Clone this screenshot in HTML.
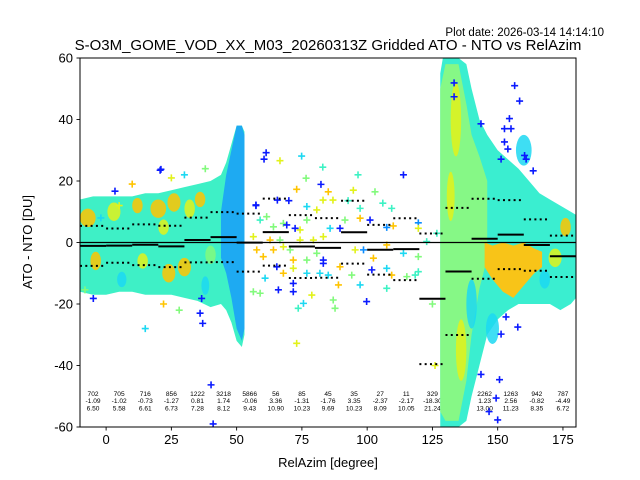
<!DOCTYPE html>
<html><head><meta charset="utf-8"><style>
body{margin:0;background:#fff}
svg{display:block;font-family:"Liberation Sans","DejaVu Sans",sans-serif}
</style></head><body>
<svg id="chart" width="640" height="480" viewBox="0 0 640 480" xmlns="http://www.w3.org/2000/svg">
<defs><clipPath id="plotclip"><rect x="80" y="58" width="496" height="369"/></clipPath></defs>
<rect x="0" y="0" width="640" height="480" fill="#fff"/>
<text x="604" y="36" font-size="11.5" text-anchor="end">Plot date: 2026-03-14 14:14:10</text>
<text x="328" y="50" font-size="15" text-anchor="middle">S-O3M_GOME_VOD_XX_M03_20260313Z Gridded ATO - NTO vs RelAzim</text>
<g id="stats"></g>
<g id="plot" clip-path="url(#plotclip)"></g>
<g id="axes"></g>
<text x="328" y="467" font-size="13" text-anchor="middle">RelAzim [degree]</text>
<text transform="translate(32,242) rotate(-90)" font-size="13" text-anchor="middle">ATO - NTO [DU]</text>
</svg>
<script>
const binCenters=[-5,5,15,25,35,45,55,65,75,85,95,105,115,125,135,145,155,165,175];
const binCounts=["702","705","716","856","1222","3218","5866","56","85","45","35","27","11","329","7713","2262","1263","942","787"];
const binMeans=[-1.09,-1.02,-0.73,-1.27,0.81,1.74,-0.06,3.36,-1.31,-1.76,3.35,-2.37,-2.17,-18.30,-9.42,1.23,2.56,-0.82,-4.49];
const binStds=[6.50,5.58,6.61,6.73,7.28,8.12,9.43,10.90,10.23,9.69,10.23,8.09,10.05,21.24,20.67,13.00,11.23,8.35,6.72];
const xTicks=[0,25,50,75,100,125,150,175];
const yTicks=[-60,-40,-20,0,20,40,60];
const leftCloudX=[-10,-5,0,5,10,15,20,25,30,35,40,44,46,48,50,52,53];
const leftCloudUp=[14,15,15,15,15,16,16,17,18,19,20,22,26,32,38,38,36];
const leftCloudLo=[-16,-17,-17,-16,-16,-17,-17,-17,-18,-19,-21,-20,-22,-26,-32,-34,-30];
const streakX=[44,46,48,50,52,53];
const streakUp=[10,22,30,38,38,35];
const streakLo=[-5,-10,-18,-28,-32,-28];
const rightCloudX=[128,129,132,135,138,140,143,146,150,154,158,162,166,170,174,178,180];
const rightCloudUp=[55,60,60,60,58,50,40,35,30,27,24,20,16,14,12,10,9];
const rightCloudLo=[-60,-60,-60,-60,-58,-50,-40,-30,-25,-22,-20,-20,-20,-20,-22,-20,-18];
const greenX=[128,130,135,138,140,143,146];
const greenUp=[50,58,58,45,35,28,20];
const greenLo=[-55,-58,-58,-45,-30,-15,-5];
const orangeX=[145,148,152,156,160,164,167];
const orangeUp=[0,-1,0,-1,0,-2,-3];
const orangeLo=[-8,-12,-16,-18,-14,-10,-8];
// blob patches inside clouds: centre x, centre y, half-width (deg), half-height (DU), colour index
const blobX=[-7,3,12,20,26,32,36,24,14,-4,6,30,38,22,40,134,136,132,140,148,172,176,168,160];
const blobY=[8,10,12,11,13,11,14,-10,-6,-6,-12,-8,-14,5,-4,40,-35,15,-20,-28,-5,5,-12,30];
const blobW=[3,2.5,2,3,2.5,2,2,2.5,2,2,1.8,2.5,1.5,2,2,2,2,1.5,2,2.5,2.5,2,2,3];
const blobH=[3,3,2.5,3,3,3,2.5,3,2.5,3,2.5,3,3,2.5,3,12,10,8,8,5,3,3,3,5];
const blobC=[6,5,6,6,6,5,6,6,5,6,2,6,2,5,4,5,5,5,2,2,5,6,2,2];
const ptX=[61.3,60.5,66.6,74.9,83,113.9,96.5,76.6,82.3,85.1,73,103,94.7,83.1,86.9,92.7,106,109.4,57.4,65.6,70,76.9,80.7,97.3,101.1,119.6,119.6,107.5,110,89.6,97.3,85.8,91.5,126.7,122.8,95.4,98.6,107.5,113.9,119.6,102.4,101.8,107.5,109.4,115.2,118.4,119.6,97.3,107.5,99.8,89,94.1,83.2,85.1,89.6,87,87.7,75.6,73.6,78.8,71.7,66,71.7,59,56.4,73,60.9,65.4,67.9,71.7,76.9,81.9,80.7,83.2,76.9,71.7,67.9,62.8,64.1,67.9,74.3,79.4,83.2,76.9,72.4,69.2,59,61.5,57.7,60.2,56.4,64.1,70.5,66.6,74.3,156.5,158.4,154.5,152.6,155.1,152.6,153.9,160.3,160.9,151.3,163.6,143.6,133.3,133.3,153.2,157.7,151.3,143.6,150.7,149.4,150,146.7,40.2,41,20.7,21,3.4,57.4,36.6,36,37,-4.9,-8.1,15,25,10,30,22,5,-2,38,28,126,125,127,125.5];
const ptY=[29.2,27.1,26.6,28.1,24.5,22,22,20.9,18.9,16.5,17.3,16.5,17,13.8,13.8,13.6,12.8,11.1,12.2,13.8,13.6,11.7,10.6,11.1,7.3,6.4,4.6,4.9,5.4,4.6,7.9,4.6,7.3,3,0.3,-2.4,-2.4,-0.8,-3.5,-4.6,-5.1,-8.9,-8.4,-10.6,-11.1,-10.6,-9.5,-13.8,-14.9,-19.2,-13.8,-10.6,-6.8,-10.6,-7.9,-18.7,-21.4,-19.8,-21.4,-17.1,-16,-15.4,-13.3,-16.5,-16,-32.8,-11.6,-7.9,-10,-8.4,-10,-10,-3.5,-5.7,-5.7,-5.7,-1.4,0.8,5.1,6.2,4.1,0.8,1.9,7.3,4.6,5.7,7.3,8.4,-2.4,-4.6,1.9,-2.4,-2.4,0.8,0.8,51,46,40.3,37,37,32.7,30.4,28.3,27.1,27.1,23.3,38.6,51.9,47.4,-24.2,-27.5,-29.8,-42.9,-44.6,-50.6,-57.7,-55,-46.3,-59,23.5,23.8,16.7,12,-18.2,-23,-26.3,-18.2,-15.4,-28,21,19,22,-20,12,8,24,-22,-40,-20,-30,-12];
const ptC=[0,0,5,2,3,0,3,4,0,6,6,4,5,5,5,3,3,3,0,0,0,2,5,3,0,1,5,1,6,0,6,2,4,3,3,5,1,6,2,4,6,0,2,6,4,3,3,2,3,0,6,4,0,2,6,4,4,2,3,5,0,0,0,4,4,5,2,0,6,5,2,2,4,0,4,6,5,6,4,4,5,5,5,4,0,0,3,4,6,6,5,6,4,4,5,0,0,0,0,0,0,0,0,0,0,0,0,0,0,0,0,0,0,0,0,0,0,0,0,0,0,0,0,0,0,0,0,4,2,5,6,2,6,5,2,4,4,5,4];
const palette=["#0a1aff","#0a8cff","#1cd8f2","#3df2c4","#82fa7c","#e2f21a","#ffc400"];

const NS="http://www.w3.org/2000/svg";
const X=v=>80+(v+10)*496/190;
const Y=v=>58+(60-v)*369/120;
function mk(tag,attrs,parent){const e=document.createElementNS(NS,tag);for(const k in attrs)e.setAttribute(k,attrs[k]);parent.appendChild(e);return e;}
const plot=document.getElementById('plot'),axes=document.getElementById('axes'),stats=document.getElementById('stats');

function band(xs,up,lo,fill,name){
  let pts=xs.map((x,i)=>X(x)+','+Y(up[i]));
  for(let i=xs.length-1;i>=0;i--)pts.push(X(xs[i])+','+Y(lo[i]));
  const p=mk('polygon',{points:pts.join(' '),fill:fill},plot);
  
  
}
binCenters.forEach((c,i)=>{
  const g=mk('g',{},stats);
  
  
  [binCounts[i],binMeans[i].toFixed(2),binStds[i].toFixed(2)].forEach((t,j)=>{
    const e=mk('text',{x:X(c),y:396+j*7.2,'font-size':6.6,'text-anchor':'middle'},g);e.textContent=t;
  });
});
band(leftCloudX,leftCloudUp,leftCloudLo,"#3ef0c6","left-cloud");
band(streakX,streakUp,streakLo,"#1eaaf2","azimuth-50-streak");
band(rightCloudX,rightCloudUp,rightCloudLo,"#3aeed0","right-cloud");
band(greenX,greenUp,greenLo,"#86f886","right-cloud-core");
band(orangeX,orangeUp,orangeLo,"#f8c418","right-cloud-orange");
blobX.forEach((x,i)=>{
  const cx=X(x),cy=Y(blobY[i]);
  const e=mk('ellipse',{cx:cx,cy:cy,rx:blobW[i]*496/190,ry:blobH[i]*369/120,fill:palette[blobC[i]],opacity:0.85},plot);
  
  
});
ptX.forEach((x,i)=>{
  const px=X(x),py=Y(ptY[i]);
  const p=mk('path',{d:`M${px-3.5},${py}H${px+3.5}M${px},${py-3.5}V${py+3.5}`,stroke:palette[ptC[i]],'stroke-width':1.6,fill:'none'},plot);
  
  
});
const z=mk('line',{x1:80,x2:576,y1:Y(0),y2:Y(0),stroke:'#000','stroke-width':1.3},plot);


binCenters.forEach((c,i)=>{
  const x1=X(c-5),x2=X(c+5);
  const m=mk('line',{x1:x1,x2:x2,y1:Y(binMeans[i]),y2:Y(binMeans[i]),stroke:'#000','stroke-width':2},plot);
  
  
  [binMeans[i]+binStds[i],binMeans[i]-binStds[i]].forEach(v=>{
    const s=mk('line',{x1:x1,x2:x2,y1:Y(v),y2:Y(v),stroke:'#000','stroke-width':2,'stroke-dasharray':'2,3.3'},plot);
    
    
  });
});
const fr=mk('rect',{x:80,y:58,width:496,height:369,fill:'none',stroke:'#000','stroke-width':1},axes);


xTicks.forEach(t=>{
  const g=mk('g',{},axes);
  
  
  mk('line',{x1:X(t),x2:X(t),y1:427,y2:430.5,stroke:'#000','stroke-width':0.9},g);
  const e=mk('text',{x:X(t),y:444,'font-size':13,'text-anchor':'middle'},g);e.textContent=t;
});
yTicks.forEach(t=>{
  const g=mk('g',{},axes);
  
  
  mk('line',{x1:76.5,x2:80,y1:Y(t),y2:Y(t),stroke:'#000','stroke-width':0.9},g);
  const e=mk('text',{x:73,y:Y(t)+4.5,'font-size':13,'text-anchor':'end'},g);e.textContent=t;
});
</script>
</body></html>
